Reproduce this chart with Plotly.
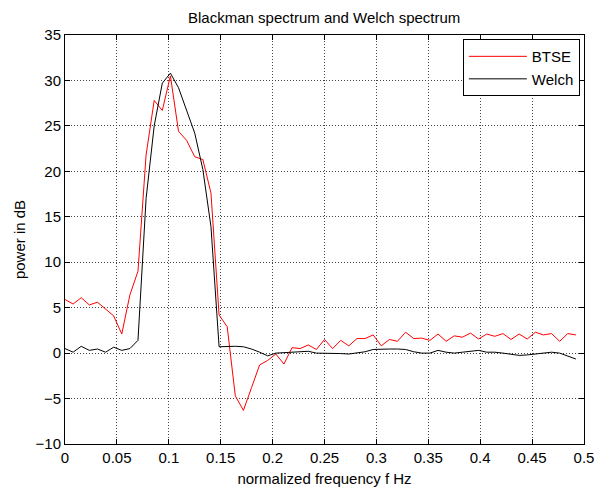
import numpy as np
import plotly.graph_objects as go

freq = [k / 128 for k in range(64)]

btse = [5.9, 5.4, 6.1, 5.3, 5.6, 4.8, 4.1, 2.1, 6.4, 9.0,
        21.8, 27.8, 26.7, 30.5, 24.4, 23.4, 21.6, 21.3, 17.6, 4.2,
        2.9, -4.7, -6.3, -3.8, -1.3, -0.8, -0.1, -1.2, 0.6, 0.5,
        0.9, 0.4, 1.5, 0.5, 1.4, 0.8, 1.6, 1.6, 2.0, 0.8,
        1.5, 1.3, 2.3, 1.6, 1.65, 1.4, 2.1, 1.3, 1.9, 1.75,
        2.2, 1.55, 2.1, 1.85, 2.15, 1.5, 2.1, 1.55, 2.3, 2.0,
        2.15, 1.3, 2.15, 2.0]

welch = [0.5, 0.1, 0.75, 0.3, 0.45, 0.1, 0.65, 0.3, 0.5, 1.4,
         17.0, 25.0, 29.7, 30.8, 29.2, 26.6, 24.2, 20.2, 13.9, 0.7,
         0.75, 0.75, 0.7, 0.45, 0.1, -0.3, 0.0, 0.05, 0.1, 0.15,
         0.2, 0.0, 0.0, 0.0, -0.05, -0.1, 0.0, 0.15, 0.4, 0.45,
         0.45, 0.45, 0.4, 0.15, 0.0, 0.0, 0.3, 0.1, 0.0, 0.1,
         0.2, 0.3, 0.1, 0.1, 0.0, -0.1, -0.25, -0.2, -0.1, 0.0,
         0.1, 0.0, -0.3, -0.65]

x_ticks = [0, 0.05, 0.1, 0.15, 0.2, 0.25, 0.3, 0.35, 0.4, 0.45, 0.5]
x_tick_text = ["0", "0.05", "0.1", "0.15", "0.2", "0.25", "0.3", "0.35", "0.4", "0.45", "0.5"]
y_ticks = [-10, -5, 0, 5, 10, 15, 20, 25, 30, 35]

FONT = "Liberation Sans, Arial, Helvetica, sans-serif"
FS = 15

fig = go.Figure()
fig.add_trace(go.Scatter(x=freq, y=btse, mode="lines", name="BTSE", legendgroup="a",
                         line=dict(color="#ff0000", width=1)))
fig.add_trace(go.Scatter(x=freq, y=welch, mode="lines", name="Welch", legendgroup="b",
                         line=dict(color="#000000", width=1)))

axis_common = dict(
    showline=True, linecolor="black", linewidth=1, mirror="ticks",
    ticks="inside", ticklen=5, tickcolor="black", automargin=False,
    showgrid=True, gridcolor="#444444", griddash="1px,2px", gridwidth=1,
    zeroline=False, tickfont=dict(family=FONT, size=FS, color="black"),
)

fig.update_xaxes(range=[0, 0.5], tickvals=x_ticks, ticktext=x_tick_text,
                 title=dict(text="normalized frequency f Hz", standoff=8,
                            font=dict(family=FONT, size=FS, color="black")),
                 **axis_common)
fig.update_yaxes(range=[-10, 35], tickvals=y_ticks,
                 title=dict(text="power in dB", standoff=6,
                            font=dict(family=FONT, size=FS, color="black")),
                 **axis_common)

fig.update_layout(
    width=606, height=489,
    margin=dict(l=65, r=22, t=35, b=45),
    paper_bgcolor="white", plot_bgcolor="white",
    title=dict(text="Blackman spectrum and Welch spectrum", x=0.535, xanchor="center",
               y=1 - 18 / 489, yanchor="middle",
               font=dict(family=FONT, size=FS, color="black")),
    legend=dict(x=0.992, xanchor="right", y=0.99, yanchor="top",
                bgcolor="white", bordercolor="black", borderwidth=1,
                font=dict(family=FONT, size=FS, color="black"),
                tracegroupgap=0, itemwidth=58),
    showlegend=True,
)

fig.write_html("out.html")
